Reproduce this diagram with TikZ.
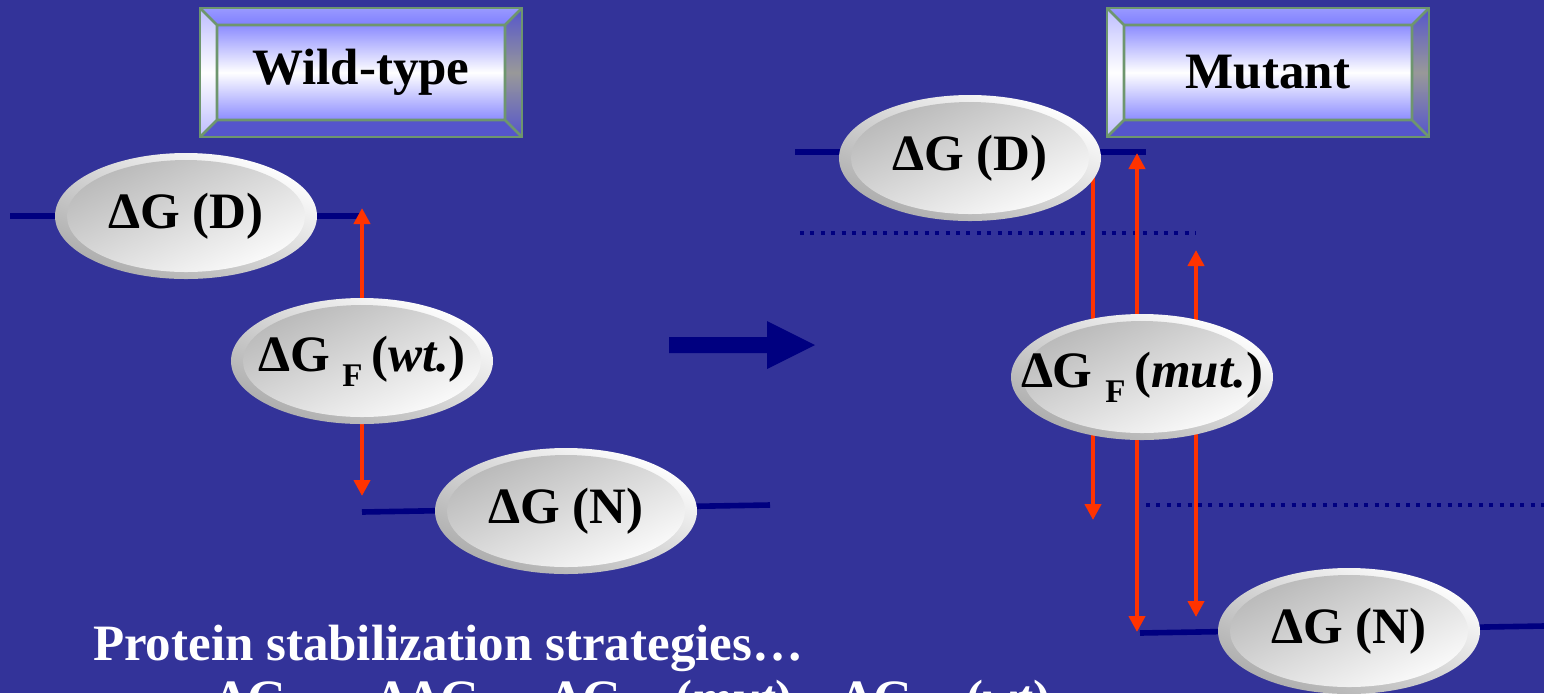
\documentclass[tikz,border=0pt]{standalone}
\usepackage{fontspec}
\setmainfont{Liberation Serif}
\usetikzlibrary{positioning,shapes.geometric,calc,arrows.meta}
\definecolor{slide}{RGB}{51,51,153}
\definecolor{navy}{RGB}{0,0,128}
\definecolor{redarr}{RGB}{255,51,0}
\definecolor{framegreen}{RGB}{110,150,110}
\definecolor{bevtop}{RGB}{128,128,255}
\definecolor{bevbot}{RGB}{85,85,204}
\definecolor{bevleft}{RGB}{215,215,255}
\definecolor{bevright}{RGB}{140,140,165}
\definecolor{facetop}{RGB}{140,140,255}
\newcommand{\slidefont}{\fontsize{25.5}{30}\selectfont\bfseries}
\newcommand{\subF}{\raisebox{-7.5pt}{\fontsize{16.5}{18}\selectfont F}}
\newcommand{\bloblabel}[1]{\makebox[0pt]{#1}}
\pgfdeclarelayer{back}
\pgfdeclarelayer{levels}
\pgfsetlayers{back,levels,main}

\begin{document}
\begin{tikzpicture}[x=0.5pt, y=-0.5pt,
  every node/.style={font=\slidefont},
  energy/.style={draw=navy, line width=2.8pt},
  dotlevel/.style={draw=navy, line width=2pt, dash pattern=on 2pt off 3.2pt},
  flow/.style={draw=redarr, line width=2.3pt, -{Triangle[width=8pt,length=8pt]}},
  blob/.style={ellipse, minimum width=131pt, minimum height=63pt, inner sep=0pt,
    top color=white, bottom color=gray!65, shading angle=-25,
    path picture={\shade[top color=gray!58, bottom color=white, shading angle=25]
      (path picture bounding box.center) ellipse [x radius=59.5pt, y radius=28pt];}},
  titlebox/.style={rectangle, minimum width=161pt, minimum height=64.5pt, inner sep=0pt,
    draw=framegreen, line width=1.3pt,
    path picture={
      \coordinate (NW) at (path picture bounding box.north west);
      \coordinate (NE) at (path picture bounding box.north east);
      \coordinate (SE) at (path picture bounding box.south east);
      \coordinate (SW) at (path picture bounding box.south west);
      \coordinate (nw) at ($(NW)+(8.5pt,-8.5pt)$);
      \coordinate (ne) at ($(NE)+(-8.5pt,-8.5pt)$);
      \coordinate (se) at ($(SE)+(-8.5pt,8.5pt)$);
      \coordinate (sw) at ($(SW)+(8.5pt,8.5pt)$);
      \shade[top color=bevtop!80!white, bottom color=bevtop] (NW) -- (NE) -- (ne) -- (nw) -- cycle;
      \fill[bevbot] (SW) -- (SE) -- (se) -- (sw) -- cycle;
      \shade[top color=bevleft!70!bevtop, bottom color=bevleft!70!bevtop, middle color=white] (NW) -- (nw) -- (sw) -- (SW) -- cycle;
      \shade[top color=bevbot, bottom color=bevbot, middle color=gray!80] (NE) -- (ne) -- (se) -- (SE) -- cycle;
      \shade[top color=facetop, bottom color=facetop, middle color=white] (nw) rectangle (se);
      \draw[framegreen, line width=1.3pt] (nw) rectangle (se) (NW) -- (nw) (NE) -- (ne) (SE) -- (se) (SW) -- (sw);
    }},
  note/.style={text=white, anchor=base west}
]
\useasboundingbox (0,0) rectangle (1544,693);
\clip (0,0) rectangle (1544,693);
\begin{pgfonlayer}{back}
  \fill[slide] (0,0) rectangle (1544,693);
\end{pgfonlayer}

% headings
\node[titlebox] (wtBox) at (361,72.5) {Wild-type};
\node[titlebox] (mutBox) at (1268,72.5) {Mutant};

% wild-type levels
\node[blob] (wtD) at (186,216) {\bloblabel{ΔG (D)}};
\node[blob] (wtF) at (362,361) {\bloblabel{ΔG \subF\,(\textit{wt.})}};
\node[blob] (wtN) at (566,511) {\bloblabel{ΔG (N)}};

% mutant levels
\node[blob] (mutD) at (970,158) {\bloblabel{ΔG (D)}};
\node[blob] (mutF) at (1142,377) {\bloblabel{ΔG \subF\,(\textit{mut.})}};
\node[blob] (mutN) at (1349,631) {\bloblabel{ΔG (N)}};

\coordinate (wtDl) at (10,216);
\coordinate (wtDr) at (362,216);
\coordinate (wtNl) at (362,512);
\coordinate (wtNr) at (770,505);
\coordinate (mutDl) at (795,152);
\coordinate (mutDr) at (1146,152);
\coordinate (mutNl) at (1140,633);
\coordinate (mutNr) at (1544,626);
\coordinate (dotAl) at (800,233);
\coordinate (dotAr) at (1196,233);
\coordinate (dotBl) at (1146,505);
\coordinate (dotBr) at (1544,505);

\begin{pgfonlayer}{levels}
  \draw[energy] (wtDl) -- (wtDr);
  \draw[energy] (wtNl) -- (wtNr);
  \draw[energy] (mutDl) -- (mutDr);
  \draw[energy] (mutNl) -- (mutNr);
  \draw[dotlevel] (dotAl) -- (dotAr);
  \draw[dotlevel] (dotBl) -- (dotBr);
  % red arrows
  \draw[flow] (wtF.center) -- (362,208);
  \draw[flow] (wtF.center) -- (362,496);
  \draw[flow] (1093,170) -- (1093,520);
  \draw[flow] (1137,377) -- (1137,153);
  \draw[flow] (1137,377) -- (1137,632);
  \draw[flow] (1196,377) -- (1196,250);
  \draw[flow] (1196,377) -- (1196,617);
\end{pgfonlayer}

% big arrow
\fill[navy] (669,337) -- (767,337) -- (767,321) -- (815,345) -- (767,369) -- (767,353) -- (669,353) -- cycle;

\node[note] (strat) at (86,660) {Protein stabilization strategies…};
\node[note] (formula) at (208,715) {ΔG\hspace{45pt}ΔΔG\hspace{35pt}ΔG \hspace{6pt}\subF\,(\textit{mut}) \hspace{18pt}ΔG \hspace{6pt}\subF\,(\textit{wt})};
\end{tikzpicture}
\end{document}
